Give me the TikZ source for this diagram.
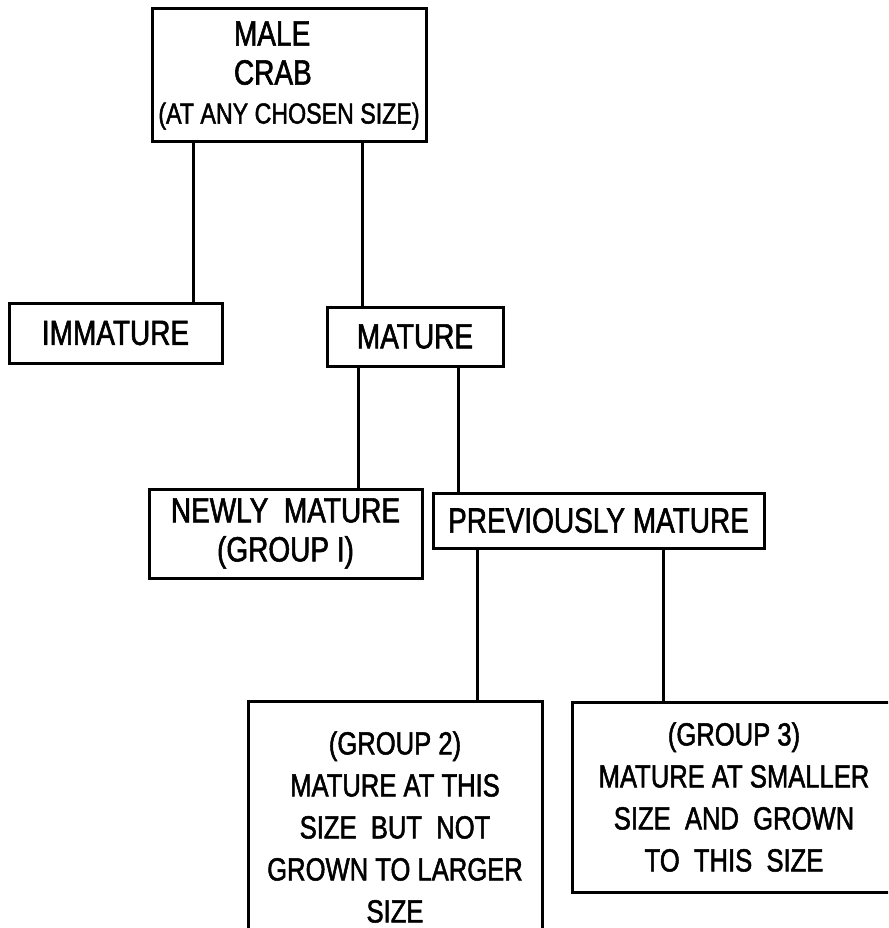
\documentclass[tikz,border=0pt]{standalone}
\usepackage{fontspec}
\setmainfont{Liberation Sans}[FakeStretch=0.8,FakeBold=1.6]
\usepackage{tikz}

\begin{document}
\begin{tikzpicture}
    \tikzset{
        box/.style={draw,line width=3pt,align=center,inner sep=0mm,outer sep=0mm,
            font=\fontsize{35}{39}\selectfont},
        grp/.style={box,font=\fontsize{32}{42}\selectfont},
        link/.style={line width=3pt},
        x=1pt,
        y=-1pt
    }
    \useasboundingbox (0,0) rectangle (888,928);
    \clip (0,0) rectangle (888,928);
    \node[box,minimum width=274,minimum height=133] (crab) at (289,75.5)
        {\makebox[110pt][l]{MALE}\\\makebox[110pt][l]{CRAB}\\
         {\fontsize{29}{34}\selectfont (AT ANY CHOSEN SIZE)}};
    \node[box,minimum width=213,minimum height=60] (immature) at (115.5,333) {IMMATURE};
    \node[box,minimum width=176,minimum height=59] (mature) at (415,336.5) {MATURE};
    \node[box,minimum width=273,minimum height=89] (newly) at (285.5,533.5)
        {NEWLY\ \ MATURE\\(GROUP I)};
    \node[box,minimum width=331,minimum height=55] (previously) at (598.5,520.5)
        {PREVIOUSLY MATURE};
    % boxes running off the page
    \node[grp,minimum width=294,minimum height=252] (grouptwo) at (395,827)
        {(GROUP 2)\\MATURE AT THIS\\SIZE\ \ BUT\ \ NOT\\GROWN TO LARGER\\SIZE};
    \node[grp,minimum width=324,minimum height=190] (groupthree) at (734,797)
        {(GROUP 3)\\MATURE AT SMALLER\\SIZE\ \ AND\ \ GROWN\\TO\ \ THIS\ \ SIZE};
    % links
    \foreach \a/\b/\px in {crab/immature/193, crab/mature/362, mature/newly/358,
                           mature/previously/458, previously/grouptwo/477,
                           previously/groupthree/663}
        \draw[link] (\a.south -| \px,0) -- (\b.north -| \px,0);
\end{tikzpicture}
\end{document}
